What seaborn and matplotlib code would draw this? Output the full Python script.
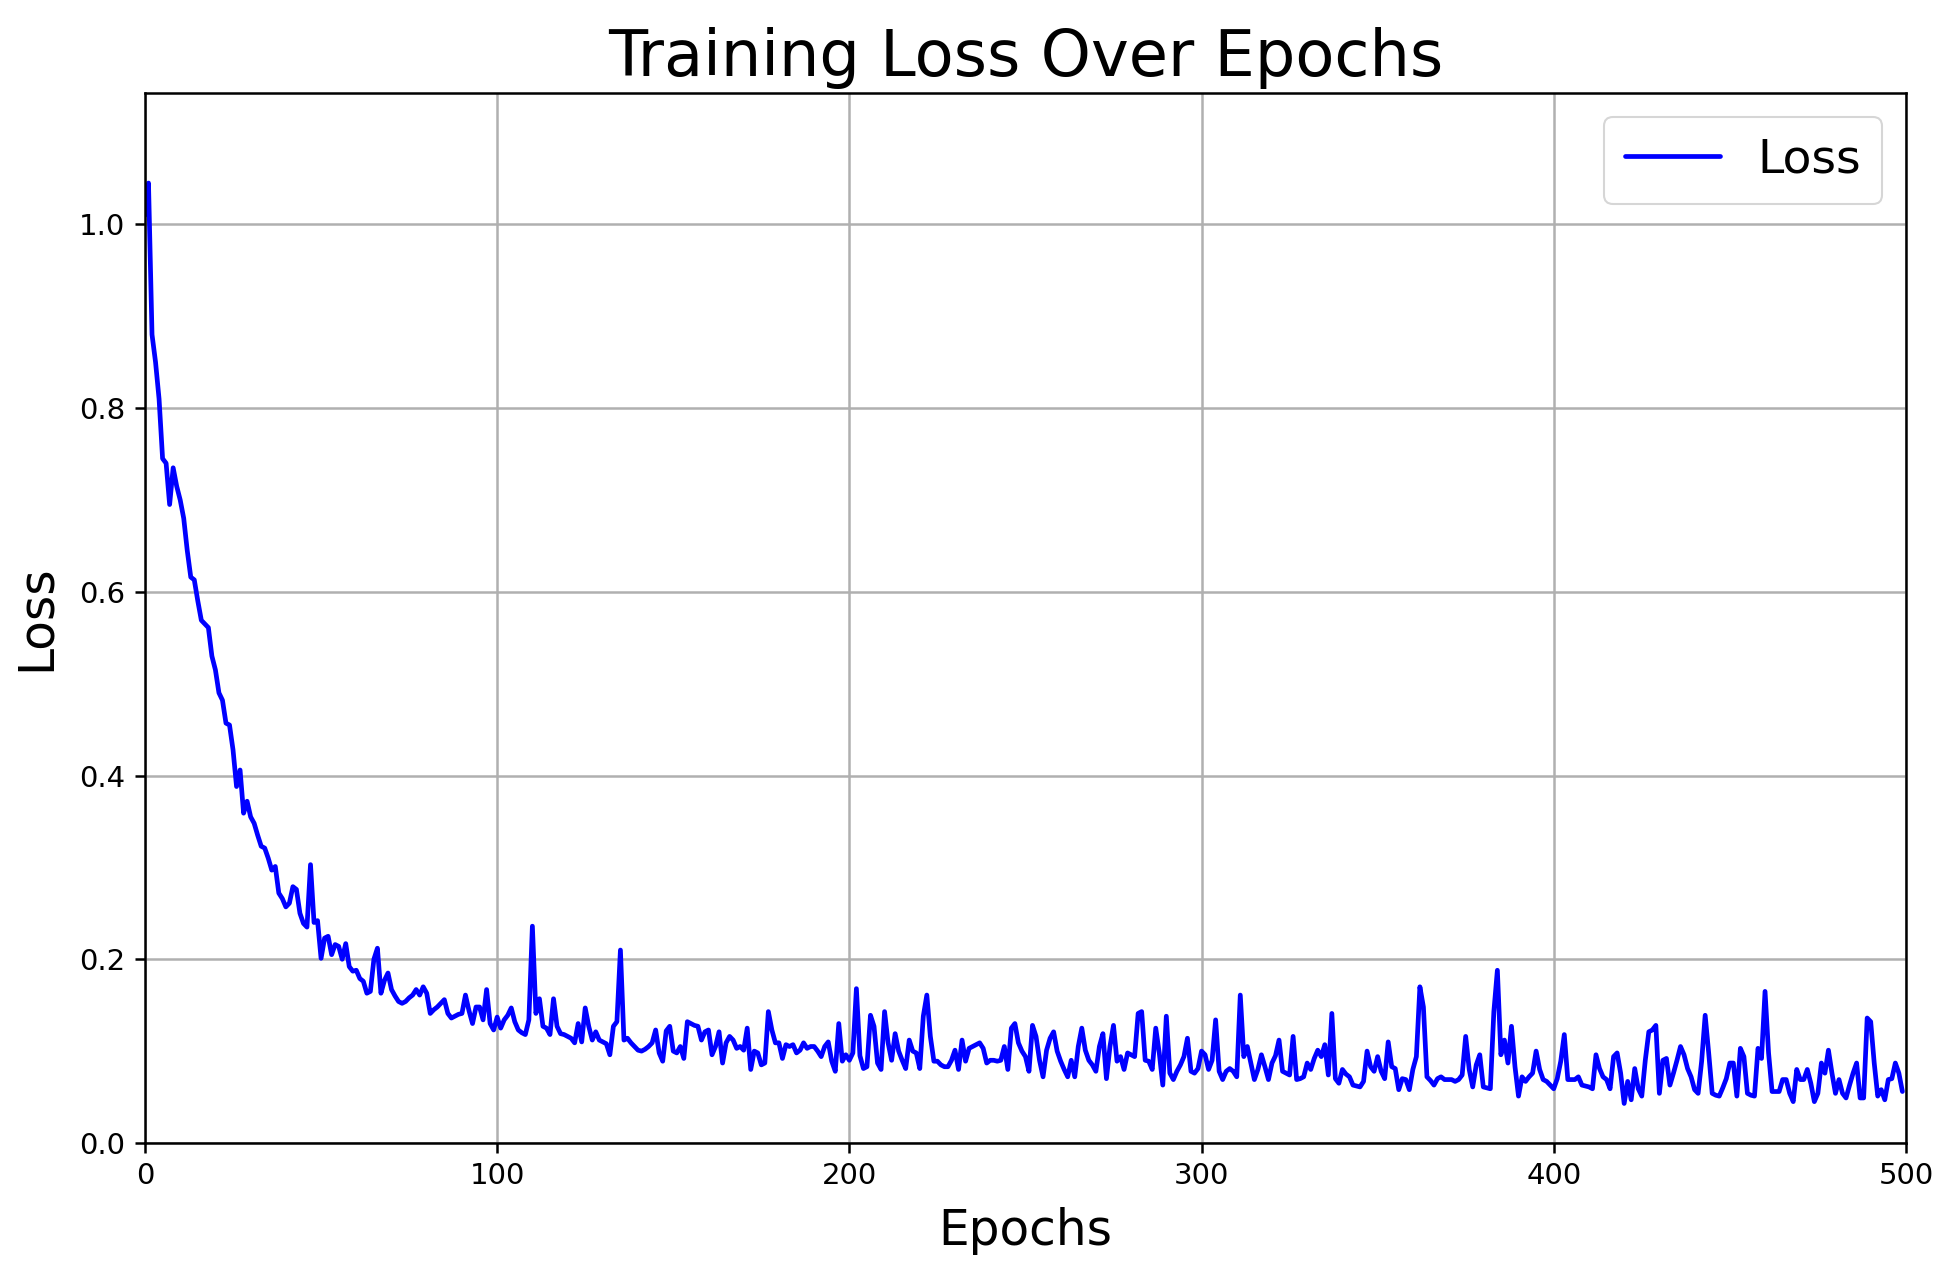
import pandas as pd
import seaborn as sns
import matplotlib.pyplot as plt

# Loss per epoch (epochs 0..499)
loss = [
    1.01, 1.045, 0.88, 0.85, 0.81, 0.745, 0.74, 0.695, 0.735, 0.715,
    0.70, 0.68, 0.645, 0.616, 0.613, 0.59, 0.569, 0.565, 0.561, 0.53,
    0.515, 0.49, 0.482, 0.457, 0.455, 0.428, 0.388, 0.406, 0.359, 0.372,
    0.355, 0.348, 0.335, 0.323, 0.321, 0.31, 0.297, 0.301, 0.272, 0.266,
    0.257, 0.261, 0.279, 0.276, 0.25, 0.239, 0.235, 0.303, 0.240, 0.242,
    0.201, 0.223, 0.225, 0.205, 0.216, 0.214, 0.200, 0.217, 0.192, 0.187,
    0.188, 0.179, 0.176, 0.163, 0.165, 0.200, 0.212, 0.163, 0.177, 0.185,
    0.167, 0.160, 0.154, 0.152, 0.154, 0.158, 0.161, 0.167, 0.161, 0.170,
    0.163, 0.141, 0.145, 0.148, 0.152, 0.156, 0.141, 0.136, 0.138, 0.140,
    0.141, 0.161, 0.144, 0.130, 0.148, 0.148, 0.134, 0.167, 0.130, 0.123,
    0.137, 0.125, 0.134, 0.139, 0.147, 0.132, 0.123, 0.120, 0.118, 0.134,
    0.236, 0.141, 0.157, 0.127, 0.125, 0.118, 0.157, 0.127, 0.119, 0.118,
    0.116, 0.114, 0.109, 0.130, 0.110, 0.147, 0.127, 0.112, 0.121, 0.112,
    0.110, 0.108, 0.096, 0.127, 0.132, 0.210, 0.112, 0.114, 0.109, 0.105,
    0.101, 0.100, 0.102, 0.105, 0.109, 0.123, 0.098, 0.089, 0.122, 0.127,
    0.100, 0.098, 0.105, 0.092, 0.132, 0.130, 0.128, 0.127, 0.112, 0.121,
    0.123, 0.096, 0.105, 0.121, 0.087, 0.109, 0.116, 0.112, 0.103, 0.105,
    0.101, 0.125, 0.080, 0.100, 0.098, 0.085, 0.087, 0.143, 0.123, 0.109,
    0.109, 0.092, 0.107, 0.105, 0.107, 0.098, 0.101, 0.109, 0.103, 0.105,
    0.105, 0.100, 0.094, 0.105, 0.110, 0.089, 0.078, 0.130, 0.089, 0.096,
    0.090, 0.098, 0.168, 0.095, 0.081, 0.083, 0.139, 0.127, 0.087, 0.080,
    0.143, 0.109, 0.090, 0.119, 0.100, 0.090, 0.081, 0.112, 0.100, 0.098,
    0.081, 0.138, 0.161, 0.116, 0.089, 0.089, 0.085, 0.083, 0.083, 0.090,
    0.101, 0.080, 0.112, 0.089, 0.103, 0.105, 0.107, 0.109, 0.103, 0.087,
    0.090, 0.090, 0.089, 0.090, 0.105, 0.080, 0.125, 0.130, 0.109, 0.100,
    0.094, 0.078, 0.128, 0.116, 0.090, 0.072, 0.101, 0.114, 0.121, 0.100,
    0.089, 0.080, 0.072, 0.090, 0.072, 0.105, 0.125, 0.101, 0.090, 0.085,
    0.078, 0.105, 0.119, 0.070, 0.105, 0.128, 0.089, 0.094, 0.080, 0.098,
    0.096, 0.094, 0.141, 0.143, 0.090, 0.089, 0.080, 0.125, 0.098, 0.063,
    0.138, 0.076, 0.069, 0.078, 0.085, 0.094, 0.114, 0.078, 0.076, 0.081,
    0.100, 0.096, 0.080, 0.090, 0.134, 0.078, 0.069, 0.078, 0.081, 0.078,
    0.072, 0.161, 0.094, 0.105, 0.087, 0.069, 0.080, 0.096, 0.083, 0.069,
    0.087, 0.095, 0.112, 0.078, 0.076, 0.074, 0.116, 0.069, 0.070, 0.072,
    0.087, 0.080, 0.092, 0.101, 0.094, 0.107, 0.074, 0.141, 0.070, 0.065,
    0.080, 0.075, 0.072, 0.063, 0.062, 0.061, 0.067, 0.100, 0.083, 0.078,
    0.094, 0.078, 0.070, 0.110, 0.083, 0.081, 0.058, 0.070, 0.069, 0.058,
    0.080, 0.094, 0.170, 0.148, 0.072, 0.068, 0.063, 0.070, 0.072, 0.069,
    0.069, 0.069, 0.067, 0.069, 0.074, 0.116, 0.080, 0.061, 0.085, 0.096,
    0.061, 0.060, 0.059, 0.143, 0.188, 0.096, 0.112, 0.087, 0.127, 0.083,
    0.051, 0.072, 0.067, 0.072, 0.076, 0.100, 0.080, 0.069, 0.067, 0.063,
    0.059, 0.070, 0.089, 0.118, 0.069, 0.069, 0.069, 0.072, 0.063, 0.062,
    0.061, 0.059, 0.096, 0.081, 0.072, 0.069, 0.059, 0.094, 0.098, 0.076,
    0.043, 0.067, 0.047, 0.081, 0.059, 0.051, 0.090, 0.121, 0.123, 0.128,
    0.054, 0.090, 0.092, 0.063, 0.076, 0.090, 0.105, 0.096, 0.081, 0.072,
    0.058, 0.054, 0.089, 0.139, 0.098, 0.054, 0.052, 0.051, 0.060, 0.070,
    0.087, 0.087, 0.051, 0.103, 0.094, 0.054, 0.052, 0.051, 0.103, 0.092,
    0.165, 0.098, 0.056, 0.056, 0.056, 0.069, 0.069, 0.054, 0.045, 0.080,
    0.069, 0.069, 0.080, 0.065, 0.045, 0.054, 0.087, 0.076, 0.101, 0.076,
    0.054, 0.069, 0.054, 0.049, 0.063, 0.076, 0.087, 0.049, 0.049, 0.136,
    0.132, 0.087, 0.051, 0.058, 0.047, 0.069, 0.070, 0.087, 0.076, 0.056,
]
epochs = list(range(len(loss)))

x_ticks = [0, 100, 200, 300, 400, 500]
y_ticks = [0.0, 0.2, 0.4, 0.6, 0.8, 1.0]

df = pd.DataFrame({'Epochs': epochs, 'Loss': loss})

sns.set_style('white')
plt.rcParams['font.family'] = ['DejaVu Sans']
plt.rcParams['text.color'] = 'black'
plt.rcParams['axes.labelcolor'] = 'black'

fig = plt.figure(figsize=(19.46, 12.67), dpi=100)
ax = fig.add_axes([0.0745, 0.0979, 0.9049, 0.8287])

sns.lineplot(data=df, x='Epochs', y='Loss', color='blue', linewidth=3.4,
             label='Loss', ax=ax)

ax.set_xlim(0, 500)
ax.set_ylim(0, 1.143)
ax.set_xticks(x_ticks)
ax.set_yticks(y_ticks)
ax.set_yticklabels([f'{t:.1f}' for t in y_ticks])
ax.grid(True, color='#b0b0b0', linewidth=1.8)
ax.set_axisbelow(True)

for s in ax.spines.values():
    s.set_color('black')
    s.set_linewidth(1.8)
ax.tick_params(axis='both', labelsize=21, labelcolor='black', colors='black',
               length=7, width=1.8, direction='out',
               bottom=True, left=True, pad=7)

ax.set_title('Training Loss Over Epochs', fontsize=46, pad=12, color='black')
ax.set_xlabel('Epochs', fontsize=35, labelpad=12)
ax.set_ylabel('Loss', fontsize=35, labelpad=14)

leg = ax.legend(loc='upper right', fontsize=34, frameon=True, fancybox=True,
                borderpad=0.45, handlelength=2.0)
leg.get_frame().set_edgecolor('#cccccc')
leg.get_frame().set_linewidth(1.5)

fig.savefig('out.png', dpi=100)
